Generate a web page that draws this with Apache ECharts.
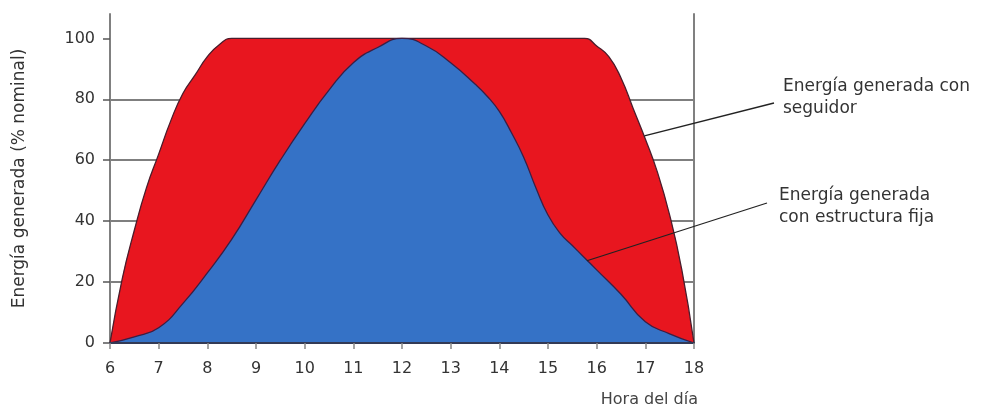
<!DOCTYPE html>
<html>
<head>
<meta charset="utf-8">
<script src="https://cdn.jsdelivr.net/npm/echarts@6/dist/echarts.min.js"></script>
<style>
  html, body { margin: 0; padding: 0; background: #fff; }
  #chart { width: 992px; height: 412px; }
</style>
</head>
<body>
<div id="chart"></div>
<script>
// horas del día y % de energía nominal
var trackerHours = [6, 6.25, 6.5, 6.75, 7, 7.25, 7.5, 7.75, 8, 8.25, 8.5, 10, 12, 14, 15.75, 16, 16.25, 16.5, 16.75, 17, 17.25, 17.5, 17.75, 18];
var trackerVals = [0, 21, 37, 51, 62, 73, 82, 88, 94, 98, 100, 100, 100, 100, 100, 97.5, 94, 87, 77, 67, 56, 42, 24, 0];

var fixedHours = [6, 6.5, 7, 7.5, 8, 8.5, 9, 9.5, 10, 10.5, 11, 11.5, 12, 12.5, 13, 13.5, 13.75, 14, 14.25, 14.5, 14.75, 15, 15.25, 15.5, 15.75, 16, 16.5, 17, 17.5, 18];
var fixedVals = [0, 2, 5, 13, 23, 34, 47, 60, 72, 83, 92, 97, 100, 97.5, 92, 85, 81, 76, 69, 61, 51, 42, 36, 32, 28, 24, 16, 7, 3, 0];

var yTicks = [0, 20, 40, 60, 80, 100];

var labelSeguidor = "Energía generada con\nseguidor";
var labelFija = "Energía generada\ncon estructura fija";

function pairs(xs, ys) {
  return xs.map(function (x, i) { return [x, ys[i]]; });
}

var font = "DejaVu Sans";
var myChart = echarts.init(document.getElementById("chart"));

var options = {
  animation: false,
  backgroundColor: "#fff",
  grid: { left: 110, right: 298, top: 14, bottom: 69 },
  xAxis: {
    type: "value",
    min: 6,
    max: 18,
    interval: 1,
    z: 5,
    name: "Hora del día",
    nameLocation: "end",
    nameGap: 4,
    nameTextStyle: {
      fontFamily: font, fontSize: 16, color: "#444",
      align: "right", verticalAlign: "top", padding: [49, 0, 0, 0]
    },
    axisLine: { show: true, lineStyle: { color: "#333a55", width: 2 } },
    axisTick: { show: true, length: 6, lineStyle: { color: "#888", width: 1.5 } },
    axisLabel: { fontFamily: font, fontSize: 16, color: "#333", margin: 18 },
    splitLine: { show: false }
  },
  yAxis: [
    {
      type: "value",
      min: 0,
      max: 108,
      interval: 20,
      name: "Energía generada (% nominal)",
      nameLocation: "middle",
      nameGap: 82,
      nameTextStyle: { fontFamily: font, fontSize: 17, color: "#333" },
      axisLine: { show: true, lineStyle: { color: "#808080", width: 2 } },
      axisTick: { show: true, length: 7, customValues: yTicks, lineStyle: { color: "#555", width: 1.5 } },
      axisLabel: { fontFamily: font, fontSize: 16, color: "#333", margin: 15, customValues: yTicks },
      splitLine: { show: true, showMaxLine: false, lineStyle: { color: "#555", width: 1.5 } }
    },
    {
      type: "value",
      min: 0,
      max: 108,
      position: "right",
      axisLine: { show: true, lineStyle: { color: "#808080", width: 2 } },
      axisTick: { show: false },
      axisLabel: { show: false },
      splitLine: { show: false }
    }
  ],
  series: [
    {
      name: "Energía generada con seguidor",
      type: "line",
      data: pairs(trackerHours, trackerVals),
      smooth: 0.5,
      showSymbol: false,
      lineStyle: { color: "#4a1d2c", width: 1.3 },
      areaStyle: { color: "#e8161f", opacity: 1 },
      z: 2
    },
    {
      name: "Energía generada con estructura fija",
      type: "line",
      data: pairs(fixedHours, fixedVals),
      smooth: 0.5,
      showSymbol: false,
      lineStyle: { color: "#3a1f45", width: 1.3 },
      areaStyle: { color: "#3572c6", opacity: 1 },
      z: 3
    }
  ]
};

myChart.setOption(options);

// líneas de anotación desde las curvas hasta los textos
var p1 = myChart.convertToPixel({ gridIndex: 0 }, [16.98, 68]);
var p2 = myChart.convertToPixel({ gridIndex: 0 }, [15.8, 27]);

myChart.setOption({
  graphic: [
    {
      type: "line", z: 10,
      shape: { x1: p1[0], y1: p1[1], x2: 774, y2: 103 },
      style: { stroke: "#222", lineWidth: 1.3 }
    },
    {
      type: "line", z: 10,
      shape: { x1: p2[0], y1: p2[1], x2: 767, y2: 203 },
      style: { stroke: "#222", lineWidth: 1.3 }
    },
    {
      type: "text", left: 783, top: 76, z: 10,
      style: { text: labelSeguidor, font: "17px " + font, fill: "#333", lineHeight: 22 }
    },
    {
      type: "text", left: 779, top: 185, z: 10,
      style: { text: labelFija, font: "17px " + font, fill: "#333", lineHeight: 22 }
    }
  ]
});
</script>
</body>
</html>
